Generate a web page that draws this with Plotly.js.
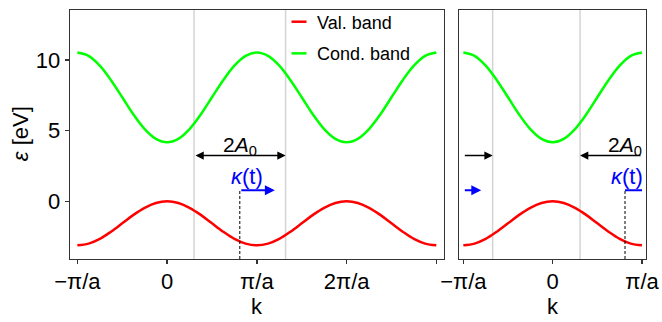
<!DOCTYPE html>
<html>
<head>
<meta charset="utf-8">
<script src="https://cdn.plot.ly/plotly-3.0.1.min.js"></script>
<style>html,body{margin:0;padding:0;background:#fff}#chart{width:662px;height:322px}</style>
</head>
<body>
<div id="chart"></div>
<script>
// ---- data (k in units of pi/a, energies in eV) ----
const kLeft = [-1,-0.875,-0.75,-0.625,-0.5,-0.375,-0.25,-0.125,0,0.125,0.25,0.375,0.5,0.625,0.75,0.875,1,
  1.125,1.25,1.375,1.5,1.625,1.75,1.875,2,2.125,2.25,2.375,2.5,2.625,2.75,2.875,3];
const valLeft = [-3.11,-2.99,-2.66,-2.15,-1.56,-0.96,-0.46,-0.12,0,-0.12,-0.46,-0.96,-1.56,-2.15,-2.66,-2.99,-3.11,
  -2.99,-2.66,-2.15,-1.56,-0.96,-0.46,-0.12,0,-0.12,-0.46,-0.96,-1.56,-2.15,-2.66,-2.99,-3.11];
const condLeft = [10.52,10.28,9.59,8.56,7.35,6.13,5.10,4.41,4.17,4.41,5.10,6.13,7.35,8.56,9.59,10.28,10.52,
  10.28,9.59,8.56,7.35,6.13,5.10,4.41,4.17,4.41,5.10,6.13,7.35,8.56,9.59,10.28,10.52];
const kRight = [-1,-0.875,-0.75,-0.625,-0.5,-0.375,-0.25,-0.125,0,0.125,0.25,0.375,0.5,0.625,0.75,0.875,1];
const valRight = [-3.11,-2.99,-2.66,-2.15,-1.56,-0.96,-0.46,-0.12,0,-0.12,-0.46,-0.96,-1.56,-2.15,-2.66,-2.99,-3.11];
const condRight = [10.52,10.28,9.59,8.56,7.35,6.13,5.10,4.41,4.17,4.41,5.10,6.13,7.35,8.56,9.59,10.28,10.52];

const tickValsLeft = [-1,0,1,2,3];
const tickTextLeft = ['\u2212\u03c0/a','0','\u03c0/a','2\u03c0/a',' '];
const tickValsRight = [-1,0,1];
const tickTextRight = ['\u2212\u03c0/a','0','\u03c0/a'];
const yTickVals = [0,5,10];

const gapLeft = [0.30, 1.32];     // edges of the 2A0 window (left panel)
const gapRight = [-0.672, 0.307]; // edges of the window (right panel, folded)
const arrowY = 3.23;              // height of 2A0 arrows
const kappa = 0.81;               // kappa(t)
const kappaEndLeft = 1.20;        // end of kappa arrow (left panel)
const kappaEndRight = -0.80;      // folded end (right panel)
const kappaY = 0.78;
const yRange = [-4.08, 13.52];

const RED = '#ff0000', GREEN = '#00ff00', BLUE = '#0000ff';
const FONT = 'Liberation Sans, Arial, sans-serif';

const traces = [
  {x:kLeft, y:valLeft, xaxis:'x', yaxis:'y', mode:'lines', line:{color:RED, width:2.5, shape:'spline'}, showlegend:false},
  {x:kLeft, y:condLeft, xaxis:'x', yaxis:'y', mode:'lines', line:{color:GREEN, width:2.5, shape:'spline'}, showlegend:false},
  {x:kRight, y:valRight, xaxis:'x2', yaxis:'y2', mode:'lines', line:{color:RED, width:2.5, shape:'spline'}, showlegend:false},
  {x:kRight, y:condRight, xaxis:'x2', yaxis:'y2', mode:'lines', line:{color:GREEN, width:2.5, shape:'spline'}, showlegend:false},
  // dashed markers of kappa(t)
  {x:[kappa,kappa], y:[yRange[0],kappaY], xaxis:'x', yaxis:'y', mode:'lines', line:{color:'#000', width:1, dash:'3px,2px'}, showlegend:false},
  {x:[kappa,kappa], y:[yRange[0],kappaY], xaxis:'x2', yaxis:'y2', mode:'lines', line:{color:'#000', width:1, dash:'3px,2px'}, showlegend:false},
  // blue segment (right panel, before wrap)
  {x:[kappa,1], y:[kappaY,kappaY], xaxis:'x2', yaxis:'y2', mode:'lines', line:{color:BLUE, width:1.8}, showlegend:false}
];

const shapes = [];
gapLeft.forEach(v => shapes.push({type:'line', xref:'x', yref:'y domain', x0:v, x1:v, y0:0, y1:1, line:{color:'#d4d4d4', width:1.5}, layer:'below'}));
gapRight.forEach(v => shapes.push({type:'line', xref:'x2', yref:'y2 domain', x0:v, x1:v, y0:0, y1:1, line:{color:'#d4d4d4', width:1.5}, layer:'below'}));

// manual legend (paper coords computed from pixels)
const W = 576, H = 248.7, L = 70, B = 258.7;
const px = v => (v - L) / W, py = v => (B - v) / H;
shapes.push({type:'line', xref:'paper', yref:'paper', x0:px(291.5), x1:px(306.5), y0:py(21.7), y1:py(21.7), line:{color:RED, width:2.5}});
shapes.push({type:'line', xref:'paper', yref:'paper', x0:px(291.5), x1:px(306.5), y0:py(53.3), y1:py(53.3), line:{color:GREEN, width:2.5}});

const arrow = (xr, yr, x, ax, y, color, w, side) => ({
  xref:xr, yref:yr, axref:xr, ayref:yr, x:x, y:y, ax:ax, ay:y, text:'', showarrow:true,
  arrowhead:2, startarrowhead:2, arrowside:side||'end', arrowsize:1.1, startarrowsize:1.1, arrowwidth:w, arrowcolor:color, standoff:0, startstandoff:0
});

const annotations = [
  arrow('x','y', gapLeft[1], gapLeft[0], arrowY, '#000', 1.5, 'end+start'),
  arrow('x2','y2', gapRight[0], -1, arrowY, '#000', 1.5),
  arrow('x2','y2', gapRight[1], 1, arrowY, '#000', 1.5),
  arrow('x','y', kappaEndLeft, kappa, kappaY, BLUE, 1.8),
  arrow('x2','y2', kappaEndRight, -1, kappaY, BLUE, 1.8),
  {xref:'x', yref:'y', x:0.81, y:3.9, text:'2<i>A</i><sub>0</sub>', showarrow:false, font:{family:FONT, size:21, color:'#000'}},
  {xref:'x2', yref:'y2', x:0.81, y:3.9, text:'2<i>A</i><sub>0</sub>', showarrow:false, font:{family:FONT, size:21, color:'#000'}},
  {xref:'x', yref:'y', x:0.89, y:1.75, text:'<i>\u03ba</i>(t)', showarrow:false, font:{family:FONT, size:22, color:BLUE}},
  {xref:'x2', yref:'y2', x:0.834, y:1.75, text:'<i>\u03ba</i>(t)', showarrow:false, font:{family:FONT, size:22, color:BLUE}},
  {xref:'paper', yref:'paper', x:px(315), y:py(22.5), xanchor:'left', yanchor:'middle', text:'Val. band', showarrow:false, font:{family:FONT, size:18, color:'#000'}},
  {xref:'paper', yref:'paper', x:px(315), y:py(54), xanchor:'left', yanchor:'middle', text:'Cond. band', showarrow:false, font:{family:FONT, size:18, color:'#000'}},
  {xref:'paper', yref:'paper', x:px(20), y:py(134), xanchor:'center', yanchor:'middle', textangle:-90, text:'<i>\u03b5</i> [eV]', showarrow:false, font:{family:FONT, size:22, color:'#000'}},
  {xref:'paper', yref:'paper', x:px(257), y:py(306), xanchor:'center', yanchor:'middle', text:'k', showarrow:false, font:{family:FONT, size:22, color:'#000'}},
  {xref:'paper', yref:'paper', x:px(552.5), y:py(306), xanchor:'center', yanchor:'middle', text:'k', showarrow:false, font:{family:FONT, size:22, color:'#000'}}
];

const axCommon = {showline:true, mirror:true, linecolor:'#333', linewidth:1.3, showgrid:false, zeroline:false,
  ticks:'outside', ticklen:4, tickwidth:1.5, tickcolor:'#333', tickfont:{family:FONT, size:22, color:'#000'}};

const layout = {
  width:662, height:322,
  margin:{l:70, r:16, t:10, b:63.3, pad:0},
  paper_bgcolor:'#fff', plot_bgcolor:'#fff',
  showlegend:false,
  font:{family:FONT},
  xaxis:Object.assign({}, axCommon, {domain:[0,0.6488], range:[-1.082,3.082], tickmode:'array', tickvals:tickValsLeft, ticktext:tickTextLeft, anchor:'y', ticklabelstandoff:-2}),
  xaxis2:Object.assign({}, axCommon, {domain:[0.6759,1], range:[-1.045,1.045], tickmode:'array', tickvals:tickValsRight, ticktext:tickTextRight, anchor:'y2', ticklabelstandoff:-2}),
  yaxis:Object.assign({}, axCommon, {range:yRange, tickmode:'array', tickvals:yTickVals, anchor:'x'}),
  yaxis2:Object.assign({}, axCommon, {range:yRange, ticks:'', showticklabels:false, anchor:'x2'}),
  shapes:shapes,
  annotations:annotations
};

Plotly.newPlot('chart', traces, layout, {staticPlot:true, displayModeBar:false});
</script>
</body>
</html>
